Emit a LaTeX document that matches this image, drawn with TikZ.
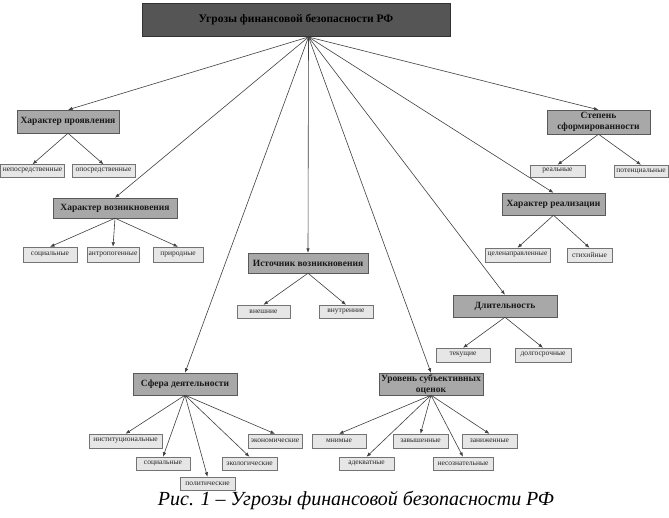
\documentclass[tikz,border=0pt]{standalone}
\usepackage{fontspec}
\setmainfont{Liberation Serif}
\usetikzlibrary{arrows.meta,calc}
\definecolor{topfill}{HTML}{555555}
\definecolor{lvlfill}{HTML}{A8A8A8}
\definecolor{leaffill}{HTML}{E6E6E6}
\begin{document}
\begin{tikzpicture}[x=1pt,y=-1pt,
  topbox/.style={draw=black!80, fill=topfill, text=black, font=\bfseries\fontsize{11.5}{13}\selectfont, inner sep=0pt, minimum width=308pt, minimum height=33pt},
  lvl/.style={draw=black!65, fill=lvlfill, text=black!90, font=\bfseries\fontsize{9.5}{11}\selectfont, inner sep=0pt, minimum height=22pt, align=center},
  leaf/.style={draw=black!55, fill=leaffill, text=black!85, font=\fontsize{7.5}{8}\selectfont, inner sep=0pt, minimum height=13pt},
  arr/.style={draw=black!75, line width=0.6pt, -{Latex[length=4.5pt,width=3.5pt]}}
]
\useasboundingbox (0,0) rectangle (669,517);
\fill[white] (0,0) rectangle (669,517);

\node[topbox] (top) at (296,19.5) {Угрозы финансовой безопасности РФ};
\coordinate (hub) at (308.5,37);

% level nodes
\node[lvl, minimum width=102pt, minimum height=23pt] (hp) at (68,121.5) {Характер проявления};
\node[lvl, minimum width=124pt, minimum height=20pt] (hv) at (115,208) {Характер возникновения};
\node[lvl, minimum width=120pt, minimum height=20pt] (iv) at (308,263) {Источник возникновения};
\node[lvl, minimum width=103pt, minimum height=24pt] (sf) at (598.5,122) {Степень\\сформированности};
\node[lvl, minimum width=103pt] (hr) at (553.5,204) {Характер реализации};
\node[lvl, minimum width=104pt] (dl) at (505,306) {Длительность};
\node[lvl, minimum width=104pt] (sd) at (185,384) {Сфера деятельности};
\node[lvl, minimum width=104pt] (us) at (431,384) {Уровень субъективных\\оценок};

% leaves
\node[leaf, minimum width=64pt] (nep) at (32.5,171) {непосредственные};
\node[leaf, minimum width=63pt] (opo) at (103.5,171) {опосредственные};
\node[leaf, minimum width=54pt, minimum height=15pt] (soc1) at (50,254.5) {социальные};
\node[leaf, minimum width=52pt, minimum height=15pt] (ant) at (113,254.5) {антропогенные};
\node[leaf, minimum width=50pt, minimum height=15pt] (pri) at (178,254.5) {природные};
\node[leaf, minimum width=53pt] (vne) at (263.5,311.5) {внешние};
\node[leaf, minimum width=54pt] (vnu) at (346,311.5) {внутренние};
\node[leaf, minimum width=55pt, minimum height=12pt] (rea) at (557.5,171) {реальные};
\node[leaf, minimum width=54pt, minimum height=12pt] (pot) at (641,171) {потенциальные};
\node[leaf, minimum width=65pt, minimum height=14pt] (cel) at (517.5,255) {целенаправленные};
\node[leaf, minimum width=45pt, minimum height=14pt] (sti) at (589.5,255) {стихийные};
\node[leaf, minimum width=54pt, minimum height=14pt] (tek) at (463,355) {текущие};
\node[leaf, minimum width=56pt, minimum height=14pt] (dol) at (543,355) {долгосрочные};
\node[leaf, minimum width=73pt, minimum height=14pt] (inst) at (125.5,441) {институциональные};
\node[leaf, minimum width=54pt] (soc2) at (163,463.5) {социальные};
\node[leaf, minimum width=55pt] (pol) at (207.5,483.5) {политические};
\node[leaf, minimum width=55pt] (eko) at (249.5,463.5) {экологические};
\node[leaf, minimum width=54pt, minimum height=14pt] (ekn) at (275,441) {экономические};
\node[leaf, minimum width=54pt, minimum height=14pt] (mni) at (339,441) {мнимые};
\node[leaf, minimum width=55pt] (ade) at (366.5,463.5) {адекватные};
\node[leaf, minimum width=55pt, minimum height=14pt] (zav) at (420.5,441) {завышенные};
\node[leaf, minimum width=60pt] (nes) at (463,463.5) {несознательные};
\node[leaf, minimum width=55pt, minimum height=14pt] (zan) at (489.5,441) {заниженные};

% caption
\node[font=\itshape\fontsize{20}{24}\selectfont, inner sep=0pt] (cap) at (356,500) {Рис. 1 – Угрозы финансовой безопасности РФ};

% main arrows
\foreach \t in {hp,hv,iv,sd,us,dl,hr,sf}
  \draw[arr] (hub) -- (\t.north);

% child arrows
\draw[arr] (hp.south) -- (nep.north);
\draw[arr] (hp.south) -- (opo.north);
\draw[arr] (hv.south) -- (soc1.north);
\draw[arr] (hv.south) -- (ant.north);
\draw[arr] (hv.south) -- (pri.north);
\draw[arr] (iv.south) -- (vne.north);
\draw[arr] (iv.south) -- (vnu.north);
\draw[arr] (sf.south) -- (rea.north);
\draw[arr] (sf.south) -- (pot.north);
\draw[arr] (hr.south) -- (cel.north);
\draw[arr] (hr.south) -- (sti.north);
\draw[arr] (dl.south) -- (tek.north);
\draw[arr] (dl.south) -- (dol.north);
\foreach \t in {inst,soc2,pol,eko,ekn}
  \draw[arr] (sd.south) -- (\t.north);
\foreach \t in {mni,ade,zav,nes,zan}
  \draw[arr] (us.south) -- (\t.north);
\end{tikzpicture}
\end{document}
